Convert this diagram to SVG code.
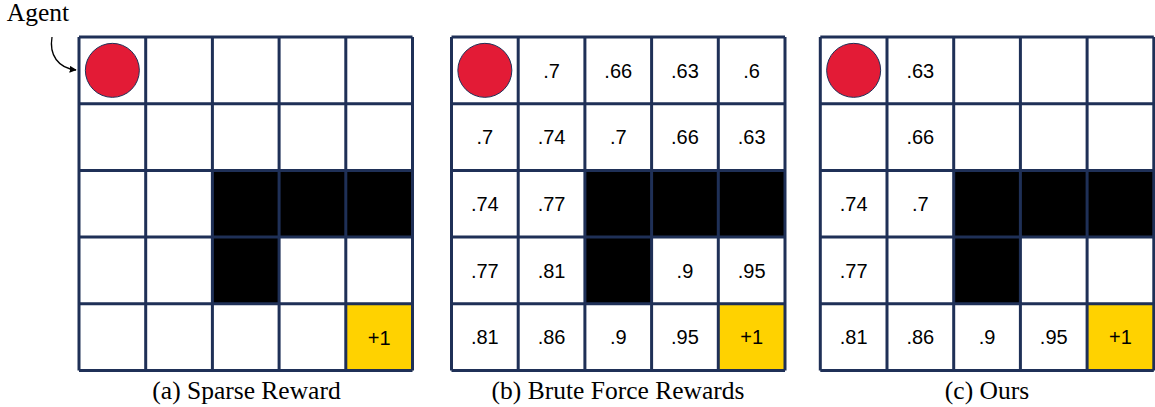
<svg xmlns="http://www.w3.org/2000/svg" width="1155" height="407" viewBox="0 0 1155 407">
  <defs>
    <style>
      .bg { fill: #ffffff; }
      .wall { fill: #000000; }
      .goal { fill: #ffd200; }
      .grid { fill: none; stroke: #1f3057; stroke-width: 3; }
      .agent { fill: #e31b36; stroke: #1f3057; stroke-width: 1; }
      .val { font-family: "Liberation Sans", Arial, sans-serif; font-size: 20px; fill: #000; text-anchor: middle; }
      .cap { font-family: "Liberation Serif", "Times New Roman", serif; font-size: 25.5px; fill: #000; text-anchor: middle; }
    </style>
    <marker id="arrow" viewBox="0 0 10 10" refX="9" refY="5" markerWidth="7" markerHeight="7" orient="auto" markerUnits="userSpaceOnUse">
      <path d="M0,0 L10,5 L0,10 z" fill="#000"/>
    </marker>
    <path id="gridlines" class="grid" d="M0,0 V333.5 M66.7,0 V333.5 M133.4,0 V333.5 M200.1,0 V333.5 M266.8,0 V333.5 M333.5,0 V333.5 M0,0 H333.5 M0,66.7 H333.5 M0,133.4 H333.5 M0,200.1 H333.5 M0,266.8 H333.5 M0,333.5 H333.5"/>
    <g id="base">
      <rect class="bg" x="0" y="0" width="333.5" height="333.5"/>
      <rect class="wall" x="133.4" y="133.4" width="200.1" height="66.7"/>
      <rect class="wall" x="133.4" y="200.1" width="66.7" height="66.7"/>
      <rect class="goal" x="266.8" y="266.8" width="66.7" height="66.7"/>
      <circle class="agent" cx="33.35" cy="33.35" r="27"/>
    </g>
  </defs>

  <g id="agent-label">
    <text class="cap" x="38" y="21">Agent</text>
  </g>

  <g id="connectors">
    <path d="M52,37 C49,55 58,68 76,70" fill="none" stroke="#000" stroke-width="1.3" marker-end="url(#arrow)"/>
  </g>

  <g id="grid-a" transform="translate(79,37)">
    <use href="#base"/>
    <text class="val" x="300.15" y="340.5" transform="translate(0,-33)">+1</text>
    <use href="#gridlines"/>
  </g>

  <g id="grid-b" transform="translate(451.5,37)">
    <use href="#base"/>
    <text class="val" x="100.05" y="40.5">.7</text>
    <text class="val" x="166.75" y="40.5">.66</text>
    <text class="val" x="233.45" y="40.5">.63</text>
    <text class="val" x="300.15" y="40.5">.6</text>
    <text class="val" x="33.35" y="107.2">.7</text>
    <text class="val" x="100.05" y="107.2">.74</text>
    <text class="val" x="166.75" y="107.2">.7</text>
    <text class="val" x="233.45" y="107.2">.66</text>
    <text class="val" x="300.15" y="107.2">.63</text>
    <text class="val" x="33.35" y="173.9">.74</text>
    <text class="val" x="100.05" y="173.9">.77</text>
    <text class="val" x="33.35" y="240.6">.77</text>
    <text class="val" x="100.05" y="240.6">.81</text>
    <text class="val" x="233.45" y="240.6">.9</text>
    <text class="val" x="300.15" y="240.6">.95</text>
    <text class="val" x="33.35" y="307.3">.81</text>
    <text class="val" x="100.05" y="307.3">.86</text>
    <text class="val" x="166.75" y="307.3">.9</text>
    <text class="val" x="233.45" y="307.3">.95</text>
    <text class="val" x="300.15" y="307.3">+1</text>
    <use href="#gridlines"/>
  </g>

  <g id="grid-c" transform="translate(820.3,37)">
    <use href="#base"/>
    <text class="val" x="100.05" y="40.5">.63</text>
    <text class="val" x="100.05" y="107.2">.66</text>
    <text class="val" x="33.35" y="173.9">.74</text>
    <text class="val" x="100.05" y="173.9">.7</text>
    <text class="val" x="33.35" y="240.6">.77</text>
    <text class="val" x="33.35" y="307.3">.81</text>
    <text class="val" x="100.05" y="307.3">.86</text>
    <text class="val" x="166.75" y="307.3">.9</text>
    <text class="val" x="233.45" y="307.3">.95</text>
    <text class="val" x="300.15" y="307.3">+1</text>
    <use href="#gridlines"/>
  </g>

  <g id="captions">
    <text class="cap" x="246.5" y="398.5">(a) Sparse Reward</text>
    <text class="cap" x="618" y="398.5">(b) Brute Force Rewards</text>
    <text class="cap" x="987" y="398.5">(c) Ours</text>
  </g>
</svg>
